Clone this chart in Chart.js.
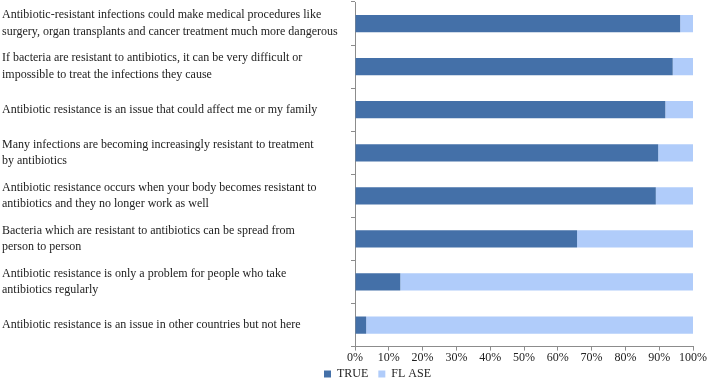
<!DOCTYPE html>
<html>
<head>
<meta charset="utf-8">
<script src="https://cdn.jsdelivr.net/npm/chart.js@4/dist/chart.umd.min.js"></script>
<style>
  html, body { margin: 0; padding: 0; background: #ffffff; }
  #wrap { width: 709px; height: 386px; }
</style>
</head>
<body>
<div id="wrap"><canvas id="chart"></canvas></div>
<script>
// statements (top to bottom as in the figure)
const statements = [
  ['Antibiotic-resistant infections could make medical procedures like', 'surgery, organ transplants and cancer treatment much more dangerous'],
  ['If bacteria are resistant to antibiotics, it can be very difficult or', 'impossible to treat the infections they cause'],
  'Antibiotic resistance is an issue that could affect me or my family',
  ['Many infections are becoming increasingly resistant to treatment', 'by antibiotics'],
  ['Antibiotic resistance occurs when your body becomes resistant to', 'antibiotics and they no longer work as well'],
  ['Bacteria which are resistant to antibiotics can be spread from', 'person to person'],
  ['Antibiotic resistance is only a problem for people who take', 'antibiotics regularly'],
  'Antibiotic resistance is an issue in other countries but not here'
];

// share of answers (%)
const trueValues = [96.2, 94.0, 91.8, 89.7, 89.0, 65.7, 13.4, 3.3];
const falseValues = trueValues.map(v => +(100 - v).toFixed(1));

const seriesNames = ['TRUE', 'FL ASE'];

const serif = "'Liberation Serif', 'Times New Roman', serif";

// legend sits a little right of centre and close under the axis in the original
const legendShift = {
  id: 'legendShift',
  afterLayout(chart) {
    if (chart.legend) {
      chart.legend.left += 30;
      chart.legend.right += 30;
      chart.legend.top -= 7;
      chart.legend.bottom -= 7;
    }
  }
};

let ctx = document.getElementById('chart').getContext('2d');

new Chart(ctx, {
  type: 'bar',
  data: {
    labels: statements,
    datasets: [{
      label: seriesNames[0],
      data: trueValues,
      backgroundColor: '#4470a8',
      borderWidth: 0,
      barPercentage: 0.4,
      categoryPercentage: 1
    }, {
      label: seriesNames[1],
      data: falseValues,
      backgroundColor: '#b0ccfa',
      borderWidth: 0,
      barPercentage: 0.4,
      categoryPercentage: 1
    }]
  },
  plugins: [legendShift],
  options: {
    indexAxis: 'y',
    responsive: true,
    maintainAspectRatio: false,
    animation: false,
    layout: { padding: { left: 2, right: 16, top: 2, bottom: -11 } },
    plugins: {
      tooltip: { enabled: false },
      legend: {
        position: 'bottom',
        labels: {
          boxWidth: 7,
          boxHeight: 7,
          padding: 10,
          color: '#222222',
          font: { family: serif, size: 12 }
        }
      }
    },
    scales: {
      x: {
        stacked: true,
        min: 0,
        max: 100,
        ticks: {
          stepSize: 10,
          color: '#222222',
          padding: 0,
          maxRotation: 0,
          font: { family: serif, size: 12 },
          callback: function(value) { return value + '%'; }
        },
        grid: { drawOnChartArea: false, tickLength: 4, color: '#8c8c8c' },
        border: { color: '#8c8c8c' }
      },
      y: {
        stacked: true,
        afterFit: function(scale) {
          scale.width = 353;
          scale.paddingTop = 0;
          scale.paddingBottom = 0;
        },
        ticks: {
          crossAlign: 'far',
          color: '#222222',
          font: { family: serif, size: 12, lineHeight: 1.38 }
        },
        grid: { drawOnChartArea: false, offset: true, tickLength: 4, color: '#8c8c8c' },
        border: { color: '#8c8c8c' }
      }
    }
  }
});
</script>
</body>
</html>
